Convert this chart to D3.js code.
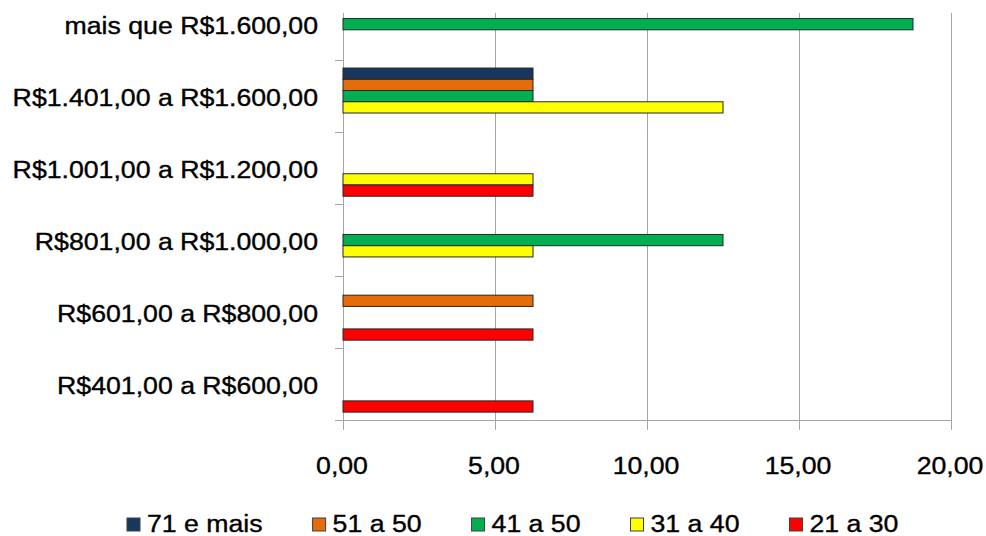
<!DOCTYPE html>
<html><head><meta charset="utf-8">
<script src="https://cdn.jsdelivr.net/npm/d3@7"></script>
<style>
body{margin:0;background:#fff;}
svg{display:block;}
text{font-family:"Liberation Sans",Arial,sans-serif;fill:#000;stroke:#000;stroke-width:0.35px;}
</style></head>
<body><svg id="c" width="986" height="536"></svg>
<script>
const categories = ["mais que R$1.600,00","R$1.401,00 a R$1.600,00","R$1.001,00 a R$1.200,00","R$801,00 a R$1.000,00","R$601,00 a R$800,00","R$401,00 a R$600,00"];
const seriesNames = ["71 e mais","51 a 50","41 a 50","31 a 40","21 a 30"];
const seriesColors = ["#17375E","#E46C0A","#00B050","#FFFF00","#FF0000"];
// values per series, aligned with categories (top to bottom)
const s71 = [0, 6.25, 0, 0, 0, 0];
const s51 = [0, 6.25, 0, 0, 6.25, 0];
const s41 = [18.75, 6.25, 0, 12.5, 0, 0];
const s31 = [0, 12.5, 6.25, 6.25, 0, 0];
const s21 = [0, 0, 6.25, 0, 6.25, 6.25];
const seriesValues = [s71, s51, s41, s31, s21];
const xTicks = [0, 5, 10, 15, 20];

const svg = d3.select("#c");
const left = 343, right = 951, bottom = 420, plotTop = 13;
const x = d3.scaleLinear().domain([0, 20]).range([left, right]);
const y = d3.scaleBand().domain(categories).range([-11.8, bottom]);
const inner = d3.scaleBand().domain(seriesNames).range([0, y.bandwidth()]).paddingOuter(0.7).paddingInner(0);
const grid = "#a6a6a6";
const fs = 23, sx = 1.16;

// gridlines
svg.append("g").selectAll("line").data(xTicks).join("line")
  .attr("x1", d => x(d)).attr("x2", d => x(d))
  .attr("y1", plotTop).attr("y2", bottom + 10)
  .attr("stroke", grid).attr("stroke-width", 1).attr("shape-rendering","crispEdges");
// bottom axis line
svg.append("line").attr("x1", left - 8).attr("x2", right).attr("y1", bottom).attr("y2", bottom)
  .attr("stroke", grid).attr("shape-rendering","crispEdges");
// left ticks at band boundaries
const bounds = categories.slice(1).map(c => y(c));
svg.append("g").selectAll("line").data(bounds).join("line")
  .attr("x1", left - 8).attr("x2", left).attr("y1", d => d).attr("y2", d => d)
  .attr("stroke", grid).attr("shape-rendering","crispEdges");

// bars
seriesNames.forEach((s, si) => {
  const data = categories.map((c, i) => ({c, v: seriesValues[si][i]})).filter(d => d.v > 0);
  svg.append("g").selectAll("rect").data(data).join("rect")
    .attr("x", x(0))
    .attr("y", d => y(d.c) + inner(s))
    .attr("width", d => x(d.v) - x(0))
    .attr("height", inner.bandwidth())
    .attr("fill", seriesColors[si])
    .attr("stroke", "#262626").attr("stroke-width", 1);
});

// category labels
svg.append("g").selectAll("g").data(categories).join("g")
  .attr("transform", d => `translate(318,${y(d) + y.bandwidth() / 2 + 10}) scale(${sx},1)`)
  .append("text").attr("text-anchor", "end").attr("font-size", fs).text(d => d);

// x tick labels
svg.append("g").selectAll("g").data(xTicks).join("g")
  .attr("transform", d => `translate(${x(d) - 1},474) scale(${sx},1)`)
  .append("text").attr("text-anchor", "middle").attr("font-size", fs)
  .text(d => d3.format(".2f")(d).replace(".", ","));

// legend
const lg = svg.append("g");
let lx = 127;
seriesNames.forEach((s, i) => {
  lg.append("rect").attr("x", lx).attr("y", 518).attr("width", 13).attr("height", 13)
    .attr("fill", seriesColors[i]).attr("stroke", "#404040").attr("stroke-width", 1);
  const t = lg.append("g").attr("transform", `translate(${lx + 20},532) scale(${sx},1)`)
    .append("text").attr("font-size", fs).text(s);
  lx += 20 + t.node().getComputedTextLength() * sx + 50;
});
</script></body></html>
